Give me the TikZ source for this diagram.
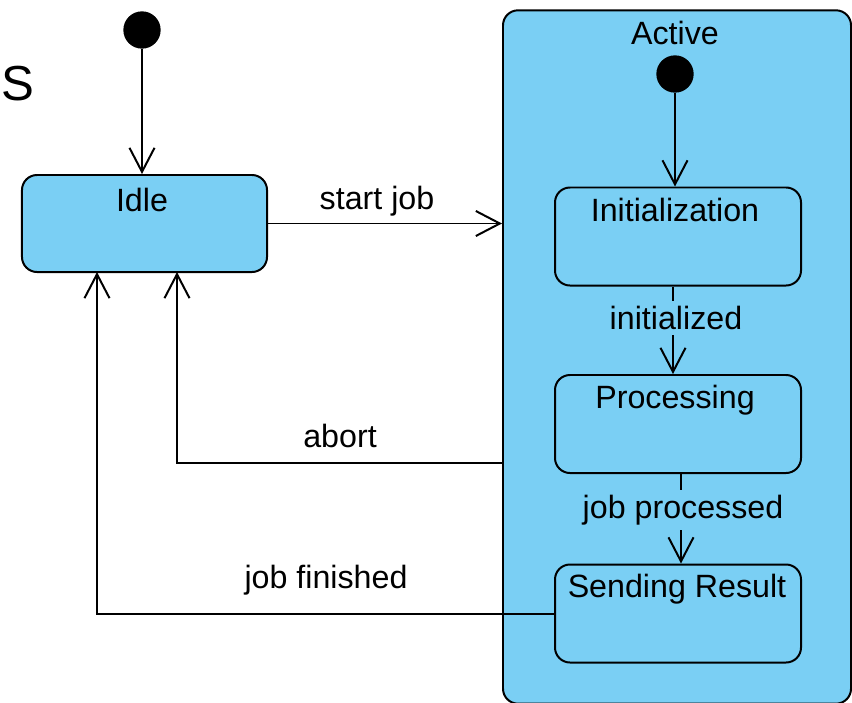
\documentclass[tikz,border=0pt]{standalone}
\usepackage{fontspec}
\setmainfont{Liberation Sans}
\usetikzlibrary{arrows.meta}
\definecolor{statefill}{RGB}{122,207,244}

\tikzset{
    state/.style={draw, fill=statefill, rounded corners=0.45cm, line width=1.7pt,
        minimum width=7.38cm, minimum height=2.94cm, inner sep=0pt},
    trans/.style={line width=1.7pt, -{Straight Barb[length=0.72cm, width=0.75cm]}},
    initial/.style={circle, fill=black, minimum size=1.12cm, inner sep=0pt},
    lbl/.style={font=\fontsize{27.5}{31}\selectfont, inner sep=0pt}
}

\begin{document}
\begin{tikzpicture}[x=0.03cm, y=-0.03cm]
        \useasboundingbox (0,0) rectangle (852,702);

        % outer states
        \node (active) [state, minimum width=10.44cm, minimum height=20.8cm] at (677,357) {};
        \node (idle) [state, minimum width=7.35cm, minimum height=2.91cm] at (144.5,223.5) {};

        % inner states
        \node (initz) [state] at (678,236.5) {};
        \node (proc) [state] at (678,424) {};
        \node (send) [state] at (678,613.5) {};

        \node (start) [initial] at (142,30) {};
        \node (start2) [initial] at (675,74) {};

        % state names
        \node (sname) [font=\fontsize{42}{46}\selectfont, inner sep=0pt] at (18,84) {S};
        \node (idlename) [lbl] at (142,200) {Idle};
        \node (activename) [lbl] at (675,33) {Active};
        \node (initzname) [lbl] at (675,210) {Initialization};
        \node (procname) [lbl] at (675,400) {Processing};
        \node (sendname) [lbl] at (677,589) {Sending Result};

        % transitions
        \coordinate (abortfrom) at (503,463);
        \coordinate (abortto) at (177,272);
        \coordinate (finto) at (97,272);

        \draw[trans] (start) -- (start |- idle.north);
        \draw[trans] (idle.east) -- (active.west |- idle.east);
        \draw[trans] (start2) -- (start2 |- initz.north);
        \draw[trans] ([xshift=-0.15cm]initz.south) -- ([xshift=-0.15cm]proc.north);
        \draw[trans] ([xshift=0.09cm]proc.south) -- ([xshift=0.09cm]send.north);
        \draw[trans] (abortfrom) -| (abortto);
        \draw[trans] (send.west) -| (finto);

        % transition labels
        \node (startjob) [lbl] at (377,201) {start job};
        \node (initd) [lbl, fill=statefill, inner sep=4pt] at (676,318) {initialized};
        \node (jobproc) [lbl, fill=statefill, inner sep=4pt] at (683,510) {job processed};
        \node (abort) [lbl] at (340,436) {abort};
        \node (jobfin) [lbl] at (326,580) {job finished};
    \end{tikzpicture}
\end{document}
